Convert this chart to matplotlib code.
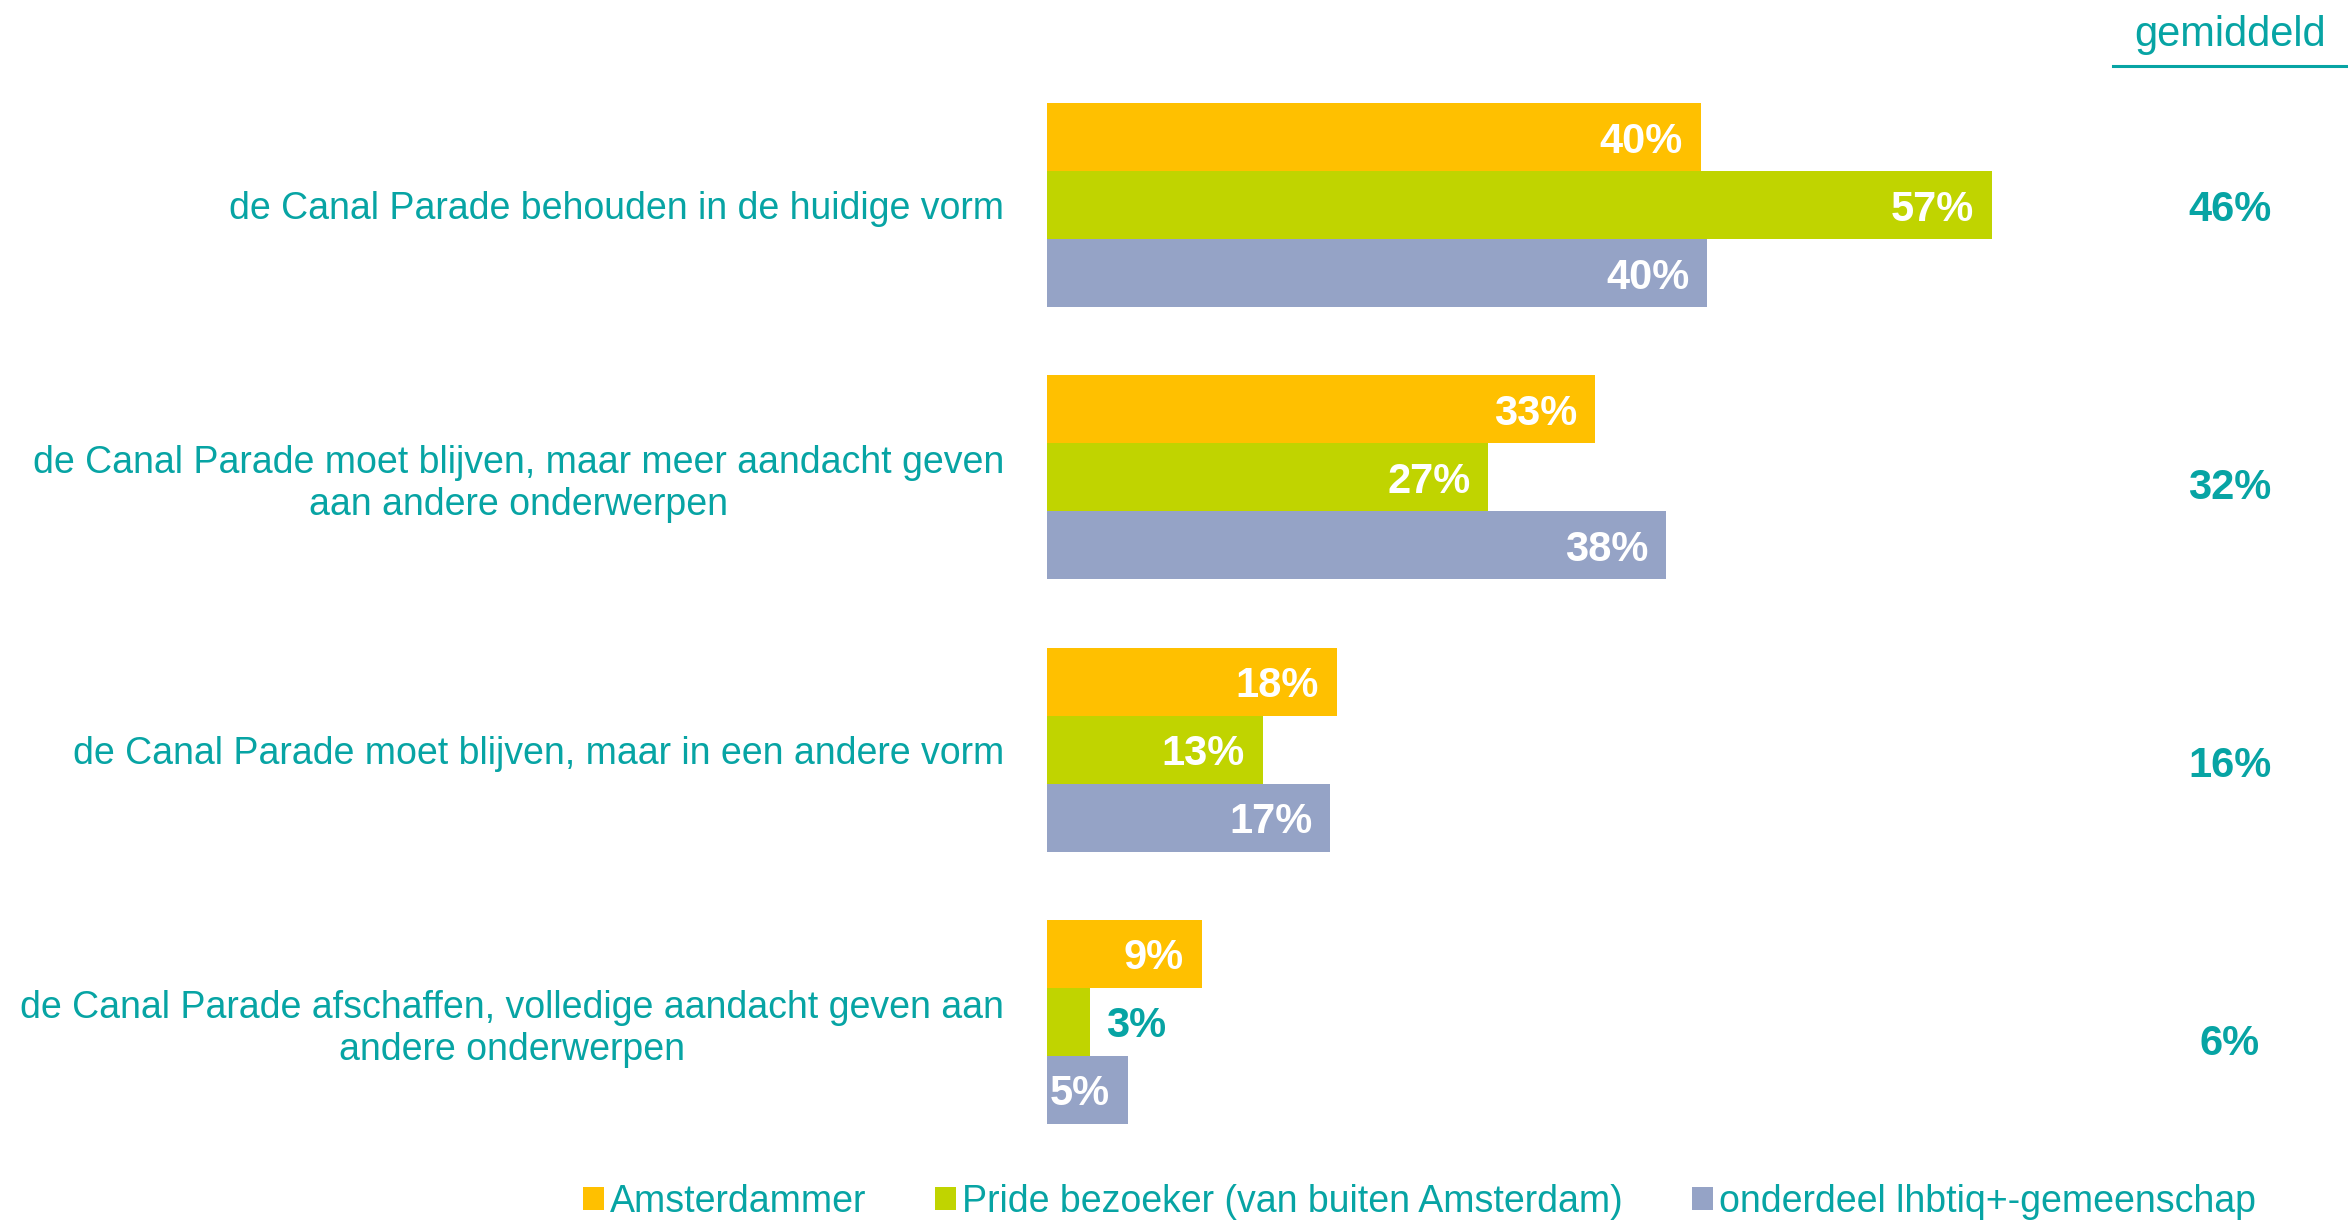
import matplotlib.pyplot as plt
import matplotlib.transforms as mtransforms
from matplotlib.patches import Patch

plt.rcParams['font.family'] = ['Liberation Sans', 'DejaVu Sans']

# data
categories = [
    'de Canal Parade behouden in de huidige vorm',
    'de Canal Parade moet blijven, maar meer aandacht geven\naan andere onderwerpen',
    'de Canal Parade moet blijven, maar in een andere vorm',
    'de Canal Parade afschaffen, volledige aandacht geven aan\nandere onderwerpen',
]
series_names = ['Amsterdammer', 'Pride bezoeker (van buiten Amsterdam)',
                'onderdeel lhbtiq+-gemeenschap']
amsterdammer = [39.7, 33.3, 17.6, 9.4]
pride_bezoeker = [57.4, 26.8, 13.1, 2.6]
lhbtiq = [40.1, 37.6, 17.2, 4.9]
gemiddeld = [46, 32, 16, 6]

colors = ['#FFC000', '#C0D400', '#95A3C6']
teal = '#07A4A4'

W, H = 2348, 1222
fig = plt.figure(figsize=(W / 100, H / 100), dpi=100)
ax = fig.add_axes([1047 / W, 1 - 1124 / H, (2035 - 1047) / W, (1124 - 103) / H])

bar_h = 0.25
all_series = [amsterdammer, pride_bezoeker, lhbtiq]
for j, vals in enumerate(all_series):
    for i, v in enumerate(vals):
        y = i + (j - 1) * bar_h
        ax.barh(y, v, height=bar_h, color=colors[j], edgecolor='none')
        txt = f'{round(v)}%'
        if v >= 4:
            ax.annotate(txt, (v, y), xytext=(-13, 0), textcoords='offset points',
                        ha='right', va='center_baseline', color='white',
                        fontsize=30, fontweight='bold')
        else:
            ax.annotate(txt, (v, y), xytext=(12, 0), textcoords='offset points',
                        ha='left', va='center_baseline', color=teal,
                        fontsize=30, fontweight='bold')

ax.set_xlim(0, 60)
ax.set_ylim(3.375, -0.375)
ax.set_xticks([])
ax.set_yticks(range(len(categories)))
ax.set_yticklabels(categories, fontsize=27, color=teal, linespacing=1.2)
for t in ax.get_yticklabels():
    t.set_multialignment('center')
ax.tick_params(axis='y', length=0, pad=31)
for s in ax.spines.values():
    s.set_visible(False)

# gemiddeld column
trans = mtransforms.blended_transform_factory(fig.transFigure, ax.transData)
for i, g in enumerate(gemiddeld):
    ax.text(2230 / W, i + 0.022 * i, f'{g}%', transform=trans, ha='center',
            va='center_baseline', color=teal, fontsize=30, fontweight='bold')
fig.text(2230 / W, 1 - 35 / H, 'gemiddeld', ha='center', va='center',
         color=teal, fontsize=30)
fig.add_artist(plt.Line2D([2113 / W, 1.0], [1 - 66 / H, 1 - 66 / H],
                          transform=fig.transFigure, color=teal, lw=2.2))

handles = [Patch(facecolor=c, edgecolor='none') for c in colors]
ax.legend(handles, series_names, loc='center left',
          bbox_to_anchor=(583 / W, 1 - 1202 / H), bbox_transform=fig.transFigure,
          ncol=3, frameon=False, fontsize=27, labelcolor=teal,
          handlelength=0.55, handleheight=0.55, handletextpad=0.16,
          columnspacing=1.85, borderpad=0, borderaxespad=0)

fig.savefig('out.png', dpi=100, facecolor='white')
